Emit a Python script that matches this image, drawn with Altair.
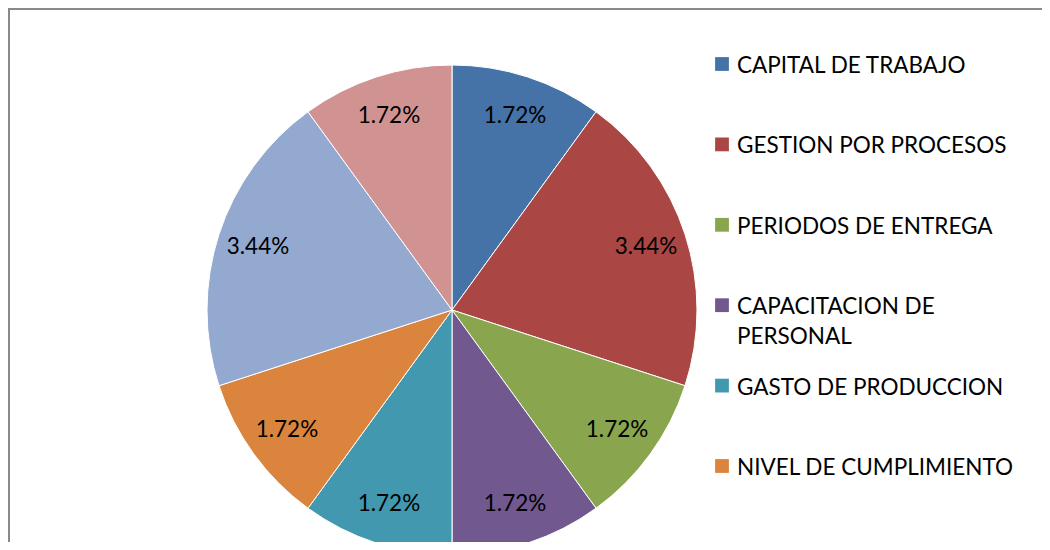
import altair as alt
import pandas as pd

# Pie data (clockwise from 12 o'clock)
categories = [
    "CAPITAL DE TRABAJO",
    "GESTION POR PROCESOS",
    "PERIODOS DE ENTREGA",
    "CAPACITACION DE PERSONAL",
    "GASTO DE PRODUCCION",
    "NIVEL DE CUMPLIMIENTO",
    "CATEGORIA 7",
    "CATEGORIA 8",
]
values = [1.72, 3.44, 1.72, 1.72, 1.72, 1.72, 3.44, 1.72]
colors = ["#4572A7", "#AA4643", "#89A54E", "#71588F",
          "#4198AF", "#DB843D", "#93A9CF", "#D19392"]

# Legend entries visible in the (cropped) chart
legend_labels = [
    "CAPITAL DE TRABAJO",
    "GESTION POR PROCESOS",
    "PERIODOS DE ENTREGA",
    "CAPACITACION DE\nPERSONAL",
    "GASTO DE PRODUCCION",
    "NIVEL DE CUMPLIMIENTO",
]
legend_keys = categories[:6]

pie_df = pd.DataFrame({
    "cat": categories,
    "val": values,
    "idx": list(range(len(categories))),
    "label": [f"{v:.2f}%" for v in values],
})
leg_df = pd.DataFrame({
    "cat": legend_keys,
    "text": legend_labels,
    "row": list(range(len(legend_keys))),
})

FONT = "Lato"
FS = 22.5
CX, CY, R = 444, 302, 245

color_scale = alt.Scale(domain=categories, range=colors)

base = alt.Chart(pie_df).encode(
    theta=alt.Theta("val:Q", stack=True),
    order=alt.Order("idx:Q"),
)

arcs = base.mark_arc(outerRadius=R, stroke="white", strokeWidth=1).encode(
    color=alt.Color("cat:N", scale=color_scale, legend=None),
    x=alt.value(CX), y=alt.value(CY),
)

labels = base.mark_text(radius=204, font=FONT, fontSize=FS, color="black").encode(
    text="label:N",
    x=alt.value(CX), y=alt.value(CY),
)

row_scale = alt.Scale(domain=[0, 5], range=[56, 458])

leg_sq = alt.Chart(leg_df).mark_square(size=190, opacity=1, filled=True).encode(
    x=alt.value(714),
    y=alt.Y("row:Q", scale=row_scale, axis=None),
    color=alt.Color("cat:N", scale=color_scale, legend=None),
)

leg_txt = alt.Chart(leg_df).mark_text(
    align="left", baseline="top", dy=-9, font=FONT, fontSize=FS,
    color="black", lineBreak="\n", lineHeight=30,
).encode(
    x=alt.value(729),
    y=alt.Y("row:Q", scale=row_scale, axis=None),
    text="text:N",
)

border_left = alt.Chart(pie_df).mark_rule(color="#898989", strokeWidth=2).encode(
    x=alt.value(1), y=alt.value(0), y2=alt.value(600)
)
border_top = alt.Chart(pie_df).mark_rule(color="#898989", strokeWidth=2).encode(
    x=alt.value(0), x2=alt.value(1100), y=alt.value(1)
)

chart = alt.layer(arcs, labels, leg_sq, leg_txt, border_left, border_top).properties(
    width=1034, height=534,
    padding=0,
    autosize=alt.AutoSizeParams(type="none"),
    background="white",
).configure_view(stroke=None)

chart.save("out.html", embed_options={"renderer": "svg", "actions": False})
